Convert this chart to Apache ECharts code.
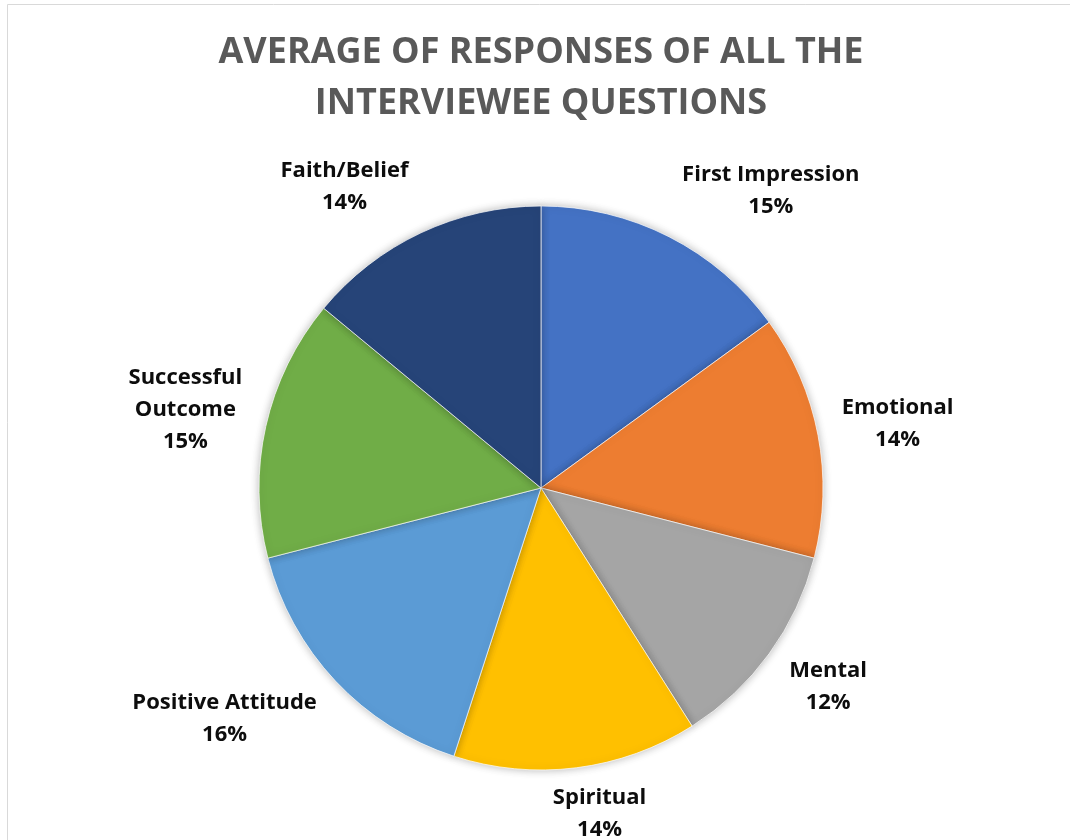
<!DOCTYPE html>
<html>
<head>
<meta charset="utf-8">
<script src="https://cdn.jsdelivr.net/npm/echarts@6/dist/echarts.min.js"></script>
<style>
  html, body { margin: 0; padding: 0; background: #ffffff; }
  #chart { width: 1070px; height: 840px; }
</style>
</head>
<body>
<div id="chart"></div>
<script>
// Category names and their average share of responses (percent)
const categories = ['First Impression', 'Emotional', 'Mental', 'Spiritual', 'Positive Attitude', 'Successful Outcome', 'Faith/Belief'];
const shares = [15, 14, 12, 14, 16, 15, 14];
const sliceColors = ['#4472C4', '#ED7D31', '#A5A5A5', '#FFC000', '#5B9BD5', '#70AD47', '#264478'];
const titleLines = ['AVERAGE OF RESPONSES OF ALL THE', 'INTERVIEWEE QUESTIONS'];

const PIE_CX = 541, PIE_CY = 488, PIE_R = 282;

const total = shares.reduce((a, b) => a + b, 0);
const midAngles = [];
let acc = 0;
shares.forEach(v => { midAngles.push(2 * Math.PI * (acc + v / 2) / total); acc += v; });

const chart = echarts.init(document.getElementById('chart'), null, { renderer: 'canvas' });

// Place each label just outside the rim at its slice's mid-angle, with the
// text block pushed off to the side the slice faces.
function placeLabel(p) {
  const th = midAngles[p.dataIndex];
  const s = Math.sin(th), c = Math.cos(th);
  const px = PIE_CX + PIE_R * s, py = PIE_CY - PIE_R * c;
  const w = p.labelRect.width, h = p.labelRect.height;
  const f = Math.min(1, Math.max(0, (0.35 - s) / 0.7));
  const gx = (4 + 20 * Math.abs(s)) * Math.sign(s);
  const left = px + gx - w * f;
  return {
    x: left + w / 2,
    y: py - c * (h / 2 + 12 + 16 * Math.abs(s)),
    align: 'center',
    verticalAlign: 'middle'
  };
}

chart.setOption({
  animation: false,
  backgroundColor: '#ffffff',
  graphic: [{
    type: 'rect',
    shape: { x: 7.5, y: 4.5, width: 1200, height: 1000 },
    style: { fill: 'none', stroke: '#d9d9d9', lineWidth: 1 },
    silent: true
  }, {
    type: 'text',
    x: 541,
    y: 27,
    silent: true,
    style: {
      text: titleLines.join('\n'),
      align: 'center',
      verticalAlign: 'top',
      fontFamily: 'Open Sans',
      fontWeight: 'bold',
      fontSize: 36,
      lineHeight: 51,
      fill: '#595959'
    }
  }],
  series: [{
    type: 'pie',
    center: [PIE_CX, PIE_CY],
    radius: PIE_R,
    startAngle: 90,
    clockwise: true,
    avoidLabelOverlap: false,
    itemStyle: {
      borderColor: 'rgba(255,255,255,0.7)',
      borderWidth: 1,
      shadowBlur: 8,
      shadowColor: 'rgba(0,0,0,0.28)'
    },
    label: {
      show: true,
      position: 'outside',
      fontFamily: 'Open Sans',
      fontWeight: 'bold',
      fontSize: 22,
      lineHeight: 32,
      color: '#0d0d0d',
      align: 'center',
      formatter: p => {
        const name = p.name.length > 17 ? p.name.replace(' ', '\n') : p.name;
        return name + '\n' + Math.round(p.percent) + '%';
      }
    },
    labelLine: { show: false },
    labelLayout: placeLabel,
    emphasis: { disabled: true },
    data: categories.map((name, i) => ({
      name: name,
      value: shares[i],
      itemStyle: { color: sliceColors[i] }
    }))
  }]
});
</script>
</body>
</html>
